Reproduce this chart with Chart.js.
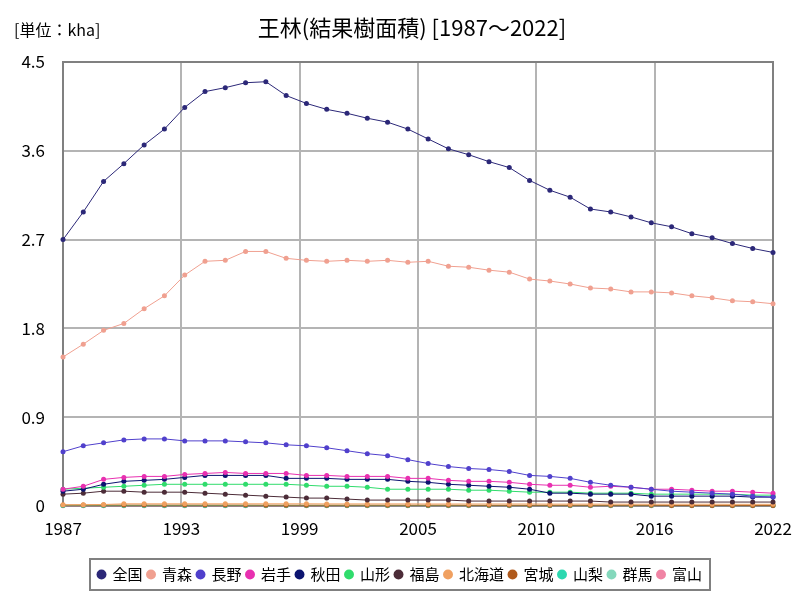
<!DOCTYPE html>
<html>
<head>
<meta charset="utf-8">
<script src="https://cdn.jsdelivr.net/npm/chart.js@4/dist/chart.umd.min.js"></script>
<style>
  body { margin: 0; background: #fff; }
  #wrap { width: 800px; height: 600px; }
</style>
</head>
<body>
<div id="wrap"><canvas id="myChart" width="800" height="600"></canvas></div>
<script>
//years on the x axis
const years = [1987, 1988, 1989, 1990, 1991, 1992, 1993, 1994, 1995, 1996,
  1997, 1998, 1999, 2000, 2001, 2002, 2003, 2004, 2005, 2006,
  2007, 2008, 2009, 2010, 2011, 2012, 2013, 2014, 2015, 2016,
  2017, 2018, 2019, 2020, 2021, 2022];

//values in kha
const zenkoku = [2.70, 2.98, 3.29, 3.47, 3.66, 3.82, 4.04, 4.20, 4.24, 4.29,
  4.30, 4.16, 4.08, 4.02, 3.98, 3.93, 3.89, 3.82, 3.72, 3.62,
  3.56, 3.49, 3.43, 3.30, 3.20, 3.13, 3.01, 2.98, 2.93, 2.87,
  2.83, 2.76, 2.72, 2.66, 2.61, 2.57];
const aomori = [1.51, 1.64, 1.78, 1.85, 2.00, 2.13, 2.34, 2.48, 2.49, 2.58,
  2.58, 2.51, 2.49, 2.48, 2.49, 2.48, 2.49, 2.47, 2.48, 2.43,
  2.42, 2.39, 2.37, 2.30, 2.28, 2.25, 2.21, 2.20, 2.17, 2.17,
  2.16, 2.13, 2.11, 2.08, 2.07, 2.05];
const nagano = [0.55, 0.61, 0.64, 0.67, 0.68, 0.68, 0.66, 0.66, 0.66, 0.65,
  0.64, 0.62, 0.61, 0.59, 0.56, 0.53, 0.51, 0.47, 0.43, 0.40,
  0.38, 0.37, 0.35, 0.31, 0.30, 0.28, 0.24, 0.21, 0.19, 0.17,
  0.15, 0.14, 0.13, 0.12, 0.10, 0.09];
const iwate = [0.17, 0.20, 0.27, 0.29, 0.30, 0.30, 0.32, 0.33, 0.34, 0.33,
  0.33, 0.33, 0.31, 0.31, 0.30, 0.30, 0.30, 0.28, 0.28, 0.26,
  0.25, 0.25, 0.24, 0.22, 0.21, 0.21, 0.19, 0.20, 0.19, 0.17,
  0.17, 0.16, 0.15, 0.15, 0.14, 0.13];
const akita = [0.15, 0.17, 0.22, 0.25, 0.26, 0.27, 0.29, 0.31, 0.31, 0.31,
  0.31, 0.28, 0.28, 0.28, 0.27, 0.27, 0.27, 0.25, 0.24, 0.22,
  0.21, 0.20, 0.19, 0.17, 0.13, 0.13, 0.12, 0.12, 0.12, 0.10,
  0.10, 0.10, 0.10, 0.10, 0.09, 0.09];
const yamagata = [0.17, 0.18, 0.19, 0.20, 0.21, 0.22, 0.22, 0.22, 0.22, 0.22,
  0.22, 0.22, 0.21, 0.20, 0.20, 0.19, 0.17, 0.17, 0.17, 0.17,
  0.16, 0.16, 0.15, 0.14, 0.14, 0.14, 0.13, 0.13, 0.13, 0.12,
  0.12, 0.12, 0.12, 0.12, 0.11, 0.11];
const fukushima = [0.12, 0.13, 0.15, 0.15, 0.14, 0.14, 0.14, 0.13, 0.12, 0.11,
  0.10, 0.09, 0.08, 0.08, 0.07, 0.06, 0.06, 0.06, 0.06, 0.06,
  0.05, 0.05, 0.05, 0.05, 0.05, 0.05, 0.05, 0.04, 0.04, 0.04,
  0.04, 0.04, 0.04, 0.04, 0.04, 0.04];
const hokkaido = [0.012, 0.013, 0.015, 0.022, 0.022, 0.022, 0.022, 0.022, 0.022, 0.022,
  0.022, 0.022, 0.022, 0.021, 0.021, 0.021, 0.021, 0.021, 0.020, 0.020,
  0.020, 0.020, 0.020, 0.020, 0.019, 0.019, 0.019, 0.019, 0.018, 0.018,
  0.018, 0.018, 0.018, 0.017, 0.017, 0.017];
const miyagi = [0.009, 0.009, 0.009, 0.009, 0.009, 0.009, 0.009, 0.009, 0.009, 0.009,
  0.008, 0.008, 0.008, 0.008, 0.008, 0.008, 0.008, 0.008, 0.008, 0.008,
  0.007, 0.007, 0.007, 0.007, 0.007, 0.007, 0.007, 0.007, 0.007, 0.007,
  0.006, 0.006, 0.006, 0.006, 0.006, 0.006];
const yamanashi = [0.005, 0.005, 0.005, 0.005, 0.005, 0.005, 0.005, 0.005, 0.005, 0.005,
  0.005, 0.005, 0.005, 0.005, 0.004, 0.004, 0.004, 0.004, 0.004, 0.004,
  0.004, 0.004, 0.004, 0.004, 0.004, 0.004, 0.004, 0.004, 0.004, 0.004,
  0.004, 0.004, 0.004, 0.004, 0.004, 0.004];
const gunma = [0.006, 0.006, 0.006, 0.006, 0.006, 0.006, 0.006, 0.006, 0.006, 0.006,
  0.006, 0.006, 0.006, 0.006, 0.006, 0.006, 0.005, 0.005, 0.005, 0.005,
  0.005, 0.005, 0.005, 0.005, 0.005, 0.005, 0.005, 0.005, 0.005, 0.005,
  0.005, 0.005, 0.005, 0.005, 0.005, 0.005];
const toyama = [0.003, 0.003, 0.003, 0.003, 0.003, 0.003, 0.003, 0.003, 0.003, 0.003,
  0.003, 0.003, 0.003, 0.003, 0.003, 0.003, 0.003, 0.003, 0.003, 0.003,
  0.003, 0.003, 0.003, 0.003, 0.003, 0.003, 0.003, 0.003, 0.003, 0.003,
  0.003, 0.003, 0.003, 0.003, 0.003, 0.003];

const seriesNames = ['全国', '青森', '長野', '岩手', '秋田', '山形', '福島', '北海道', '宮城', '山梨', '群馬', '富山'];
const seriesValues = [zenkoku, aomori, nagano, iwate, akita, yamagata, fukushima, hokkaido, miyagi, yamanashi, gunma, toyama];
const seriesColors = ['#2c2878', '#f0a090', '#5040cc', '#e830b0', '#0c1470', '#30dc6c', '#4c2c38', '#f0a060', '#b05a1c', '#2cd8b0', '#84d8bc', '#f084a4'];

const yTicks = [0, 0.9, 1.8, 2.7, 3.6, 4.5];

const FONT = "'Noto Sans CJK JP', 'Noto Sans', sans-serif";

//build datasets
let datasets = seriesNames.map(function (name, i) {
  return {
    label: name,
    data: years.map(function (y, j) { return { x: y, y: seriesValues[i][j] }; }),
    borderColor: seriesColors[i],
    backgroundColor: seriesColors[i],
    borderWidth: 1,
    pointRadius: 2.5,
    pointBorderWidth: 0,
    pointHoverRadius: 3,
    clip: 5
  };
});
// first series on top
datasets.forEach(function (d, i) { d.order = i; });

//title, unit and frames
const decor = {
  id: 'decor',
  beforeDatasetsDraw(chart) {
    const a = chart.chartArea, ctx = chart.ctx;
    ctx.save();
    ctx.strokeStyle = '#808080';
    ctx.lineWidth = 2;
    ctx.strokeRect(a.left, a.top, a.right - a.left, a.bottom - a.top);
    ctx.restore();
  },
  afterDraw(chart) {
    const ctx = chart.ctx;
    ctx.save();
    ctx.fillStyle = '#000';
    ctx.textBaseline = 'middle';
    ctx.textAlign = 'center';
    ctx.font = '22px ' + FONT;
    ctx.fillText('王林(結果樹面積) [1987～2022]', 412, 28);
    ctx.textAlign = 'left';
    ctx.font = '16px ' + FONT;
    ctx.fillText('[単位：kha]', 14, 30);
    // box around legend
    const lg = chart.legend;
    if (lg && lg.legendHitBoxes && lg.legendHitBoxes.length) {
      let l = Infinity, r = -Infinity, t = Infinity, b = -Infinity;
      lg.legendHitBoxes.forEach(function (h) {
        l = Math.min(l, h.left); r = Math.max(r, h.left + h.width);
        t = Math.min(t, h.top); b = Math.max(b, h.top + h.height);
      });
      ctx.strokeStyle = '#808080';
      ctx.lineWidth = 2;
      ctx.strokeRect(l - 8, t - 8, r - l + 16, b - t + 16);
    }
    ctx.restore();
  }
};

let config = {
  type: 'line',
  data: { datasets: datasets },
  options: {
    responsive: false,
    animation: false,
    layout: { padding: { left: 0, right: 0, top: 62, bottom: 8 } },
    scales: {
      x: {
        type: 'linear',
        min: years[0],
        max: years[years.length - 1],
        afterBuildTicks: function (axis) {
          let t = [];
          for (let i = 0; i <= 6; i++) t.push({ value: years[0] + i * (years[years.length - 1] - years[0]) / 6 });
          axis.ticks = t;
        },
        afterFit: function (axis) {
          axis.height = 56;
          axis.paddingLeft = 0;
          axis.paddingRight = 0;
        },
        grid: { color: '#b4b4b4', lineWidth: 2, drawTicks: false },
        border: { color: '#808080', width: 2 },
        ticks: {
          color: '#000',
          font: { family: FONT, size: 17 },
          padding: 12,
          maxRotation: 0,
          callback: function (v) { return String(Math.round(v)); }
        }
      },
      y: {
        min: 0,
        max: 4.5,
        afterBuildTicks: function (axis) {
          axis.ticks = yTicks.map(function (v) { return { value: v }; });
        },
        afterFit: function (axis) { axis.width = 63; },
        grid: { color: '#b4b4b4', lineWidth: 2, drawTicks: false },
        border: { color: '#808080', width: 2 },
        ticks: {
          color: '#000',
          font: { family: FONT, size: 17 },
          padding: 18,
          callback: function (v) { return v === 0 ? '0' : v.toFixed(1); }
        }
      },
      // empty right margin so the legend centres on the whole canvas
      yRight: {
        position: 'right',
        min: 0,
        max: 4.5,
        grid: { display: false, drawTicks: false },
        border: { display: false },
        ticks: { display: false },
        afterFit: function (axis) { axis.width = 27; }
      }
    },
    plugins: {
      legend: {
        position: 'bottom',
        labels: {
          usePointStyle: true,
          pointStyle: 'circle',
          boxWidth: 7,
          boxHeight: 7,
          padding: 5,
          color: '#000',
          font: { family: FONT, size: 15 }
        }
      },
      tooltip: { enabled: false }
    }
  },
  plugins: [decor]
};

let newChart = new Chart(document.getElementById('myChart'), config);
</script>
</body>
</html>
